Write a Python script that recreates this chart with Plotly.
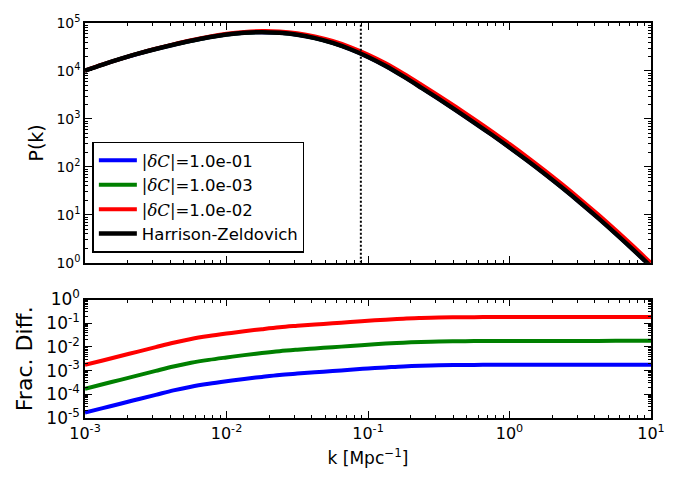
import plotly.graph_objects as go
from plotly.subplots import make_subplots

# ---------------- data ----------------
k = [1.0e-3, 1.334e-3, 1.778e-3, 2.371e-3, 3.162e-3, 4.217e-3, 5.623e-3, 7.499e-3,
     1.0e-2, 1.334e-2, 1.778e-2, 2.371e-2, 3.162e-2, 4.217e-2, 5.623e-2, 7.499e-2,
     1.0e-1, 1.334e-1, 1.778e-1, 2.371e-1, 3.162e-1, 4.217e-1, 5.623e-1, 7.499e-1,
     1.0, 1.334, 1.778, 2.371, 3.162, 4.217, 5.623, 7.499, 10.0]

# Harrison-Zeldovich power spectrum
p_hz = [1.02e4, 1.36e4, 1.78e4, 2.29e4, 2.87e4, 3.53e4, 4.27e4, 5.04e4,
        5.74e4, 6.24e4, 6.43e4, 6.24e4, 5.69e4, 4.84e4, 3.84e4, 2.84e4,
        1.96e4, 1.27e4, 7.69e3, 4.51e3, 2.61e3, 1.49e3, 841.0, 467.0,
        254.0, 135.5, 70.8, 36.1, 17.9, 8.65, 4.06, 1.86, 0.83]

# fractional differences
frac_blue = [1.70e-5, 2.6e-5, 4.0e-5, 6.2e-5, 9.5e-5, 1.46e-4, 2.1e-4, 2.79e-4,
             3.55e-4, 4.43e-4, 5.43e-4, 6.55e-4, 7.5e-4, 8.5e-4, 9.6e-4, 1.08e-3,
             1.23e-3, 1.36e-3, 1.50e-3, 1.60e-3, 1.67e-3, 1.71e-3, 1.74e-3, 1.75e-3,
             1.76e-3, 1.76e-3, 1.77e-3, 1.77e-3, 1.77e-3, 1.77e-3, 1.78e-3, 1.78e-3, 1.78e-3]
frac_green = [1.72e-4, 2.65e-4, 4.08e-4, 6.3e-4, 9.7e-4, 1.48e-3, 2.13e-3, 2.83e-3,
              3.6e-3, 4.5e-3, 5.5e-3, 6.6e-3, 7.6e-3, 8.6e-3, 9.7e-3, 1.09e-2,
              1.24e-2, 1.38e-2, 1.51e-2, 1.61e-2, 1.69e-2, 1.73e-2, 1.76e-2, 1.77e-2,
              1.78e-2, 1.78e-2, 1.79e-2, 1.79e-2, 1.79e-2, 1.79e-2, 1.80e-2, 1.80e-2, 1.80e-2]
frac_red = [1.74e-3, 2.68e-3, 4.12e-3, 6.34e-3, 9.77e-3, 1.50e-2, 2.16e-2, 2.87e-2,
            3.66e-2, 4.56e-2, 5.60e-2, 6.75e-2, 7.76e-2, 8.81e-2, 9.93e-2, 0.112,
            0.127, 0.141, 0.155, 0.165, 0.173, 0.177, 0.180, 0.181,
            0.182, 0.182, 0.183, 0.183, 0.183, 0.183, 0.184, 0.184, 0.184]

k_pivot = 0.089

series_names = [
    '<span style="font-family:DejaVu Serif">|<i>δC</i>|=</span>1.0e-01',
    '<span style="font-family:DejaVu Serif">|<i>δC</i>|=</span>1.0e-03',
    '<span style="font-family:DejaVu Serif">|<i>δC</i>|=</span>1.0e-02',
]
series_fracs = [frac_blue, frac_green, frac_red]
series_colors = ["#0000ff", "#008000", "#ff0000"]

top_ticks = [1, 10, 100, 1e3, 1e4, 1e5]
top_ticktext = ["10<sup>0</sup>", "10<sup>1</sup>", "10<sup>2</sup>",
                "10<sup>3</sup>", "10<sup>4</sup>", "10<sup>5</sup>"]
bot_ticks = [1e-5, 1e-4, 1e-3, 1e-2, 1e-1, 1]
bot_ticktext = ["10<sup>-5</sup>", "10<sup>-4</sup>", "10<sup>-3</sup>",
                "10<sup>-2</sup>", "10<sup>-1</sup>", "10<sup>0</sup>"]
x_ticks = [1e-3, 1e-2, 1e-1, 1, 10]
x_ticktext = ["10<sup>-3</sup>", "10<sup>-2</sup>", "10<sup>-1</sup>",
              "10<sup>0</sup>", "10<sup>1</sup>"]

# ---------------- figure ----------------
fig = make_subplots(rows=2, cols=1, shared_xaxes=False)

for name, fr, col in zip(series_names, series_fracs, series_colors):
    fig.add_trace(go.Scatter(x=k, y=[p * (1 + f) for p, f in zip(p_hz, fr)],
                             mode="lines", name=name,
                             line=dict(color=col, width=4, shape="spline")), row=1, col=1)
fig.add_trace(go.Scatter(x=k, y=p_hz, mode="lines", name="Harrison-Zeldovich",
                         line=dict(color="black", width=4.5, shape="spline")), row=1, col=1)
fig.add_trace(go.Scatter(x=[k_pivot, k_pivot], y=[1, 1e5], mode="lines", showlegend=False,
                         line=dict(color="black", width=2, dash="2px,2px")), row=1, col=1)

for name, fr, col in zip(series_names, series_fracs, series_colors):
    fig.add_trace(go.Scatter(x=k, y=fr, mode="lines", showlegend=False,
                             line=dict(color=col, width=4, shape="spline")), row=2, col=1)


def minor_vals(lo, hi):
    vals = []
    for e in range(lo, hi):
        for m in range(2, 10):
            vals.append(m * 10.0 ** e)
    return vals


def minor_cfg(lo, hi):
    return dict(tickmode="array", tickvals=minor_vals(lo, hi), ticks="inside",
                ticklen=3.5, tickwidth=1, tickcolor="black", showgrid=False)


axis_common = dict(type="log", showgrid=False, zeroline=False, showline=True,
                   linecolor="black", linewidth=1.5, mirror="allticks",
                   ticks="inside", ticklen=7, tickwidth=1, tickcolor="black")

fig.update_xaxes(**axis_common, range=[-3, 1], tickmode="array", tickvals=x_ticks,
                 ticktext=x_ticktext, minor=minor_cfg(-3, 1),
                 tickfont=dict(family="DejaVu Sans", size=16, color="black"))
fig.update_xaxes(showticklabels=False, row=1, col=1)
fig.update_xaxes(title=dict(text="k [Mpc<sup>−1</sup>]",
                            font=dict(family="DejaVu Sans", size=17, color="black"),
                            standoff=10), row=2, col=1)

fig.update_yaxes(**axis_common)
fig.update_yaxes(range=[0, 5], tickmode="array", tickvals=top_ticks, ticktext=top_ticktext,
                 minor=minor_cfg(0, 5),
                 tickfont=dict(family="DejaVu Sans", size=14, color="black"),
                 title=dict(text="P(k)", font=dict(family="DejaVu Sans", size=19, color="black"),
                            standoff=8),
                 row=1, col=1)
fig.update_yaxes(range=[-5, 0], tickmode="array", tickvals=bot_ticks, ticktext=bot_ticktext,
                 minor=minor_cfg(-5, 0),
                 tickfont=dict(family="DejaVu Sans", size=17, color="black"),
                 title=dict(text="Frac. Diff.", font=dict(family="DejaVu Sans", size=22, color="black"),
                            standoff=8),
                 row=2, col=1)

fig.update_layout(
    width=690, height=478,
    margin=dict(l=85, r=39, t=11, b=60),
    paper_bgcolor="white", plot_bgcolor="white",
    font=dict(family="DejaVu Sans", color="black"),
    xaxis=dict(domain=[0, 1]), xaxis2=dict(domain=[0, 1]),
    yaxis=dict(domain=[0.393, 1.0]), yaxis2=dict(domain=[0.0, 0.300]),
    showlegend=True,
    legend=dict(x=0.013, y=0.700, xanchor="left", yanchor="top",
                bgcolor="white", bordercolor="black", borderwidth=1.5,
                font=dict(family="DejaVu Sans", size=16.5, color="black"),
                tracegroupgap=0, itemwidth=38),
)

fig.write_html("out.html")
